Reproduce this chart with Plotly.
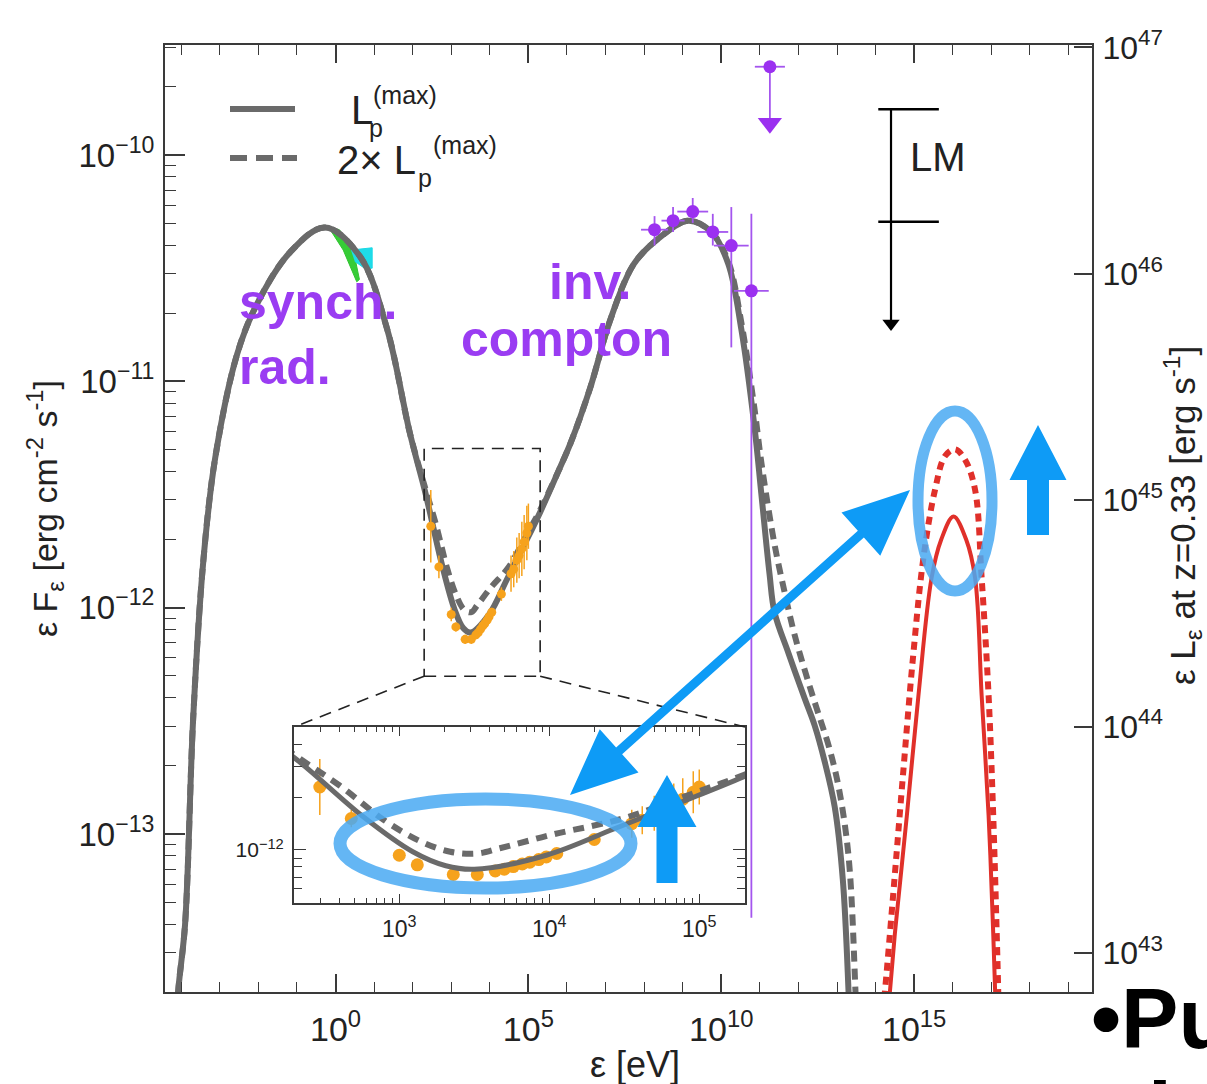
import numpy as np
import plotly.graph_objects as go

W, H = 1207, 1084
L, R, T, B = 165, 1092, 45, 992          # plot-area edges (px)

x_range = [-4.42, 19.61]                 # log10 eV
y_range = [-13.698, -9.514]              # log10 erg cm-2 s-1
y3_range = [42.827, 47.011]              # log10 erg s-1 (right axis)
inset_x_range = [2.298, 5.305]
inset_y_range = [-12.303, -11.297]
inset_box_px = [294, 745, 727, 903]      # left, right, top, bottom

# ---------------- data (log10 values) ----------------
lp_logE = [-4.20, -4.08, -3.90, -3.69, -3.43, -3.12, -2.55, -2.04, -1.18, -0.27, 0.64, 1.34, 1.93,
           2.34, 2.76, 3.09, 3.31, 3.50, 3.98, 4.43, 4.87, 5.30, 5.77, 6.10, 6.60, 7.14, 7.74,
           8.44, 9.14, 9.74, 10.18, 10.52, 10.86, 11.04, 11.25, 11.38, 11.74, 12.16, 12.42,
           12.68, 12.94, 13.15, 13.30, 13.40]
lp_logF = [-14.10, -13.70, -13.40, -12.49, -11.80, -11.34, -10.88, -10.66, -10.43, -10.32, -10.45,
           -10.77, -11.23, -11.50, -11.81, -12.01, -12.09, -12.11, -12.03, -11.88, -11.73, -11.58,
           -11.40, -11.27, -11.03, -10.72, -10.48, -10.36, -10.29, -10.34, -10.48, -10.77, -11.20,
           -11.50, -11.85, -12.02, -12.20, -12.40, -12.52, -12.68, -12.88, -13.20, -13.70, -14.20]

lp2_logE = [-4.20, -4.08, -3.90, -3.69, -3.43, -3.12, -2.55, -2.04, -1.18, -0.27, 0.64, 1.34, 1.93,
            2.34, 2.60, 2.90, 3.14, 3.34, 3.52, 3.67, 4.03, 4.49, 4.98, 5.30, 5.77, 6.10, 6.60,
            7.14, 7.74, 8.44, 9.14, 9.74, 10.18, 10.52, 10.86, 11.04, 11.38, 11.64, 11.90, 12.26,
            12.52, 12.80, 13.05, 13.30, 13.48, 13.58]
lp2_logF = [-14.10, -13.70, -13.40, -12.49, -11.80, -11.34, -10.88, -10.66, -10.43, -10.32, -10.45,
            -10.77, -11.23, -11.48, -11.63, -11.83, -11.95, -12.01, -12.02, -11.99, -11.91, -11.82,
            -11.67, -11.57, -11.40, -11.27, -11.03, -10.72, -10.48, -10.36, -10.29, -10.34, -10.47,
            -10.74, -11.12, -11.36, -11.72, -11.93, -12.12, -12.33, -12.47, -12.62, -12.80, -13.10,
            -13.70, -14.20]

nu_logE = [14.30, 14.37, 14.50, 14.81, 15.11, 15.45, 15.70, 16.02, 16.35, 16.58, 16.75, 16.93, 17.05, 17.10, 17.12]
nu_logF = [-13.85, -13.70, -13.44, -12.92, -12.39, -11.87, -11.70, -11.597, -11.70, -11.87, -12.39, -12.92, -13.44, -13.70, -13.85]
nu2_logE = [14.15, 14.24, 14.46, 14.71, 14.97, 15.24, 15.54, 15.80, 16.06, 16.33, 16.58, 16.75, 16.93, 17.05, 17.14, 17.18, 17.20]
nu2_logF = [-13.85, -13.70, -13.26, -12.74, -12.22, -11.78, -11.48, -11.33, -11.30, -11.35, -11.48, -11.87, -12.39, -12.92, -13.44, -13.70, -13.85]

gam_logE = [8.27, 8.75, 9.26, 9.78, 10.26, 10.78]
gam_logF = [-10.33, -10.29, -10.25, -10.34, -10.40, -10.60]
gam_logF_hi = [-10.27, -10.23, -10.19, -10.26, -10.23, -10.26]
gam_logF_lo = [-10.40, -10.34, -10.30, -10.40, -10.85, -13.37]
gam_logE_err = [0.35, 0.30, 0.40, 0.40, 0.45, 0.45]

ul_logE = [11.26]
ul_logF = [-9.61]
ul_logF_head = [-9.86]
ul_logE_err = [0.39]

xray_logE = [2.47, 2.68, 3.00, 3.12, 3.36, 3.52, 3.64, 3.70, 3.76, 3.82, 3.87, 3.93, 3.98, 4.05,
             4.30, 4.55, 4.62, 4.70, 4.76, 4.83, 4.89, 4.96, 5.00]
xray_logF = [-11.64, -11.82, -12.03, -12.085, -12.14, -12.14, -12.12, -12.11, -12.095, -12.08,
             -12.07, -12.055, -12.04, -12.02, -11.94, -11.85, -11.83, -11.79, -11.77, -11.74,
             -11.71, -11.67, -11.64]
xray_err = [0.16, 0.05, 0.03, 0.02, 0.02, 0.02, 0.02, 0.02, 0.02, 0.02, 0.02, 0.02, 0.02, 0.02,
            0.03, 0.08, 0.08, 0.10, 0.10, 0.12, 0.12, 0.12, 0.10]

opt_green_logE = [-0.32, 0.10, 0.45, 0.62, 0.55, 0.20, -0.10]
opt_green_logF = [-10.31, -10.33, -10.41, -10.55, -10.56, -10.42, -10.34]
uv_cyan_logE = [0.40, 0.95, 0.95, 0.75, 0.50]
uv_cyan_logF = [-10.42, -10.41, -10.50, -10.50, -10.47]

lm_logE = 14.40
lm_cap_logE = [14.07, 15.64]
lm_logF = [-9.798, -10.295, -10.745]     # top cap, second cap, arrow head

x_ticks = [0, 5, 10, 15]
y_ticks = [-13, -12, -11, -10]
y3_ticks = [43, 44, 45, 46, 47]
inset_x_ticks = [3, 4, 5]

# ---------------- helpers ----------------
def lin(a):
    return [10.0 ** v for v in a]

def ppx(px):
    return (px - L) / (R - L)

def ppy(py):
    return (B - py) / (B - T)

def dpx(lx):
    return (lx - x_range[0]) / (x_range[1] - x_range[0])

def dpy(ly):
    return (ly - y_range[0]) / (y_range[1] - y_range[0])

def sup(n):
    s = str(n).replace('-', '\u2212')
    return f"10<sup>{s}</sup>"

GRAY = '#6a6a6a'
RED = '#e0302a'
ORANGE = '#f6a21c'
PURPLE = '#9b30f0'
PTXT = '#9a3cf2'
BLUE = '#0e9bf6'
BLUE_E = '#4aaaf3'
FRAME = '#3a3a3a'
FN = 'Liberation Sans, Arial, sans-serif'
FB = 'Liberation Sans, Arial, sans-serif'

fig = go.Figure()

# optical / UV
fig.add_trace(go.Scatter(x=lin(opt_green_logE), y=lin(opt_green_logF), fill='toself', mode='lines',
                         line=dict(color='#2fc42f', width=1), fillcolor='#36cc36', hoverinfo='skip'))
fig.add_trace(go.Scatter(x=lin(uv_cyan_logE), y=lin(uv_cyan_logF), fill='toself', mode='lines',
                         line=dict(color='#19d9e6', width=1), fillcolor='#1fdbe8', hoverinfo='skip'))

# model curves
fig.add_trace(go.Scatter(x=lin(lp2_logE), y=lin(lp2_logF), mode='lines', line_shape='spline',
                         line=dict(color=GRAY, width=6, dash='11px,7px'), hoverinfo='skip'))
fig.add_trace(go.Scatter(x=lin(lp_logE), y=lin(lp_logF), mode='lines', line_shape='spline',
                         line=dict(color=GRAY, width=6), hoverinfo='skip'))
fig.add_trace(go.Scatter(x=lin(nu2_logE), y=lin(nu2_logF), mode='lines', line_shape='spline',
                         line=dict(color=RED, width=6, dash='8px,6px'), hoverinfo='skip'))
fig.add_trace(go.Scatter(x=lin(nu_logE), y=lin(nu_logF), mode='lines', line_shape='spline',
                         line=dict(color=RED, width=4), hoverinfo='skip'))

# X-ray data
def xerr(logy, e):
    y = np.array(lin(logy))
    up = np.array(lin(list(np.array(logy) + np.array(e)))) - y
    dn = y - np.array(lin(list(np.array(logy) - np.array(e))))
    return y, up, dn

xy, xup, xdn = xerr(xray_logF, xray_err)
fig.add_trace(go.Scatter(x=lin(xray_logE), y=xy, mode='markers',
                         marker=dict(color=ORANGE, size=9),
                         error_y=dict(type='data', symmetric=False, array=xup, arrayminus=xdn,
                                      color=ORANGE, thickness=1.5, width=0), hoverinfo='skip'))

# gamma-ray data
gy = np.array(lin(gam_logF))
gup = np.array(lin(gam_logF_hi)) - gy
gdn = gy - np.array(lin(gam_logF_lo))
gx = np.array(lin(gam_logE))
gxp = np.array(lin(list(np.array(gam_logE) + np.array(gam_logE_err)))) - gx
gxm = gx - np.array(lin(list(np.array(gam_logE) - np.array(gam_logE_err))))
fig.add_trace(go.Scatter(x=gx, y=gy, mode='markers', marker=dict(color=PURPLE, size=13),
                         error_y=dict(type='data', symmetric=False, array=gup, arrayminus=gdn,
                                      color='#a455ee', thickness=1.8, width=0),
                         error_x=dict(type='data', symmetric=False, array=gxp, arrayminus=gxm,
                                      color='#a455ee', thickness=1.8, width=0), hoverinfo='skip'))
# upper limit
ux = np.array(lin(ul_logE))
uy = np.array(lin(ul_logF))
fig.add_trace(go.Scatter(x=ux, y=uy, mode='markers', marker=dict(color=PURPLE, size=13),
                         error_x=dict(type='data', symmetric=False,
                                      array=np.array(lin(list(np.array(ul_logE) + np.array(ul_logE_err)))) - ux,
                                      arrayminus=ux - np.array(lin(list(np.array(ul_logE) - np.array(ul_logE_err)))),
                                      color='#a455ee', thickness=1.8, width=0),
                         error_y=dict(type='data', symmetric=False, array=[0],
                                      arrayminus=uy - np.array(lin(ul_logF_head)),
                                      color='#a455ee', thickness=1.8, width=0), hoverinfo='skip'))
fig.add_trace(go.Scatter(x=ux, y=lin(ul_logF_head), mode='markers',
                         marker=dict(color=PURPLE, size=21, symbol='triangle-down'), hoverinfo='skip'))

# LM limit
fig.add_trace(go.Scatter(x=lin([lm_logE, lm_logE]), y=lin([lm_logF[0], lm_logF[2]]), mode='lines',
                         line=dict(color='black', width=2.2), hoverinfo='skip'))
for f in lm_logF[:2]:
    fig.add_trace(go.Scatter(x=lin(lm_cap_logE), y=lin([f, f]), mode='lines',
                             line=dict(color='black', width=2.5), hoverinfo='skip'))
fig.add_trace(go.Scatter(x=lin([lm_logE]), y=lin([lm_logF[2]]), mode='markers',
                         marker=dict(color='black', size=15, symbol='triangle-down'), hoverinfo='skip'))

# invisible trace for right axis
fig.add_trace(go.Scatter(x=[1.0], y=[1e45], yaxis='y3', mode='markers', marker=dict(opacity=0),
                         hoverinfo='skip'))

# inset traces
fig.add_trace(go.Scatter(x=lin(xray_logE), y=xy, mode='markers', xaxis='x2', yaxis='y2',
                         marker=dict(color=ORANGE, size=13),
                         error_y=dict(type='data', symmetric=False, array=xup, arrayminus=xdn,
                                      color=ORANGE, thickness=1.5, width=0), hoverinfo='skip'))
fig.add_trace(go.Scatter(x=lin(lp2_logE), y=lin(lp2_logF), mode='lines', line_shape='spline',
                         xaxis='x2', yaxis='y2',
                         line=dict(color=GRAY, width=6, dash='11px,8px'), hoverinfo='skip'))
fig.add_trace(go.Scatter(x=lin(lp_logE), y=lin(lp_logF), mode='lines', line_shape='spline',
                         xaxis='x2', yaxis='y2', line=dict(color=GRAY, width=5), hoverinfo='skip'))

# ---------------- axes ----------------
minor_x = [10.0 ** k for k in range(-4, 20)]
minor_y = [m * 10.0 ** k for k in range(-14, -9) for m in range(2, 10)]
inset_minor_x = [m * 10.0 ** k for k in range(2, 6) for m in range(1, 10)]
inset_minor_y = [m * 10.0 ** k for k in range(-13, -11) for m in range(2, 10)]

fig.update_layout(
    width=W, height=H,
    margin=dict(l=L, r=W - R, t=T, b=H - B, pad=0),
    paper_bgcolor='white', plot_bgcolor='white', showlegend=False,
    xaxis=dict(type='log', range=x_range, domain=[0, 1], anchor='y',
               tickmode='array', tickvals=[10.0 ** v for v in x_ticks], ticktext=[sup(v) for v in x_ticks],
               ticks='inside', ticklen=18, tickwidth=1.5, tickcolor=FRAME,
               minor=dict(tickmode='array', tickvals=minor_x, ticks='inside', ticklen=10,
                          tickwidth=1.3, tickcolor=FRAME, showgrid=False),
               showline=True, linecolor=FRAME, linewidth=2, mirror='ticks',
               showgrid=False, zeroline=False, tickfont=dict(family=FN, size=34, color='#222'),
               ticklabelstandoff=6),
    yaxis=dict(type='log', range=y_range, domain=[0, 1], anchor='x',
               tickmode='array', tickvals=[10.0 ** v for v in y_ticks], ticktext=[sup(v) for v in y_ticks],
               ticks='inside', ticklen=20, tickwidth=1.5, tickcolor=FRAME,
               minor=dict(tickmode='array', tickvals=minor_y, ticks='inside', ticklen=11,
                          tickwidth=1.3, tickcolor=FRAME, showgrid=False),
               showline=True, linecolor=FRAME, linewidth=2, mirror=False,
               showgrid=False, zeroline=False, tickfont=dict(family=FN, size=33, color='#222'),
               ticklabelstandoff=2),
    yaxis3=dict(type='log', range=y3_range, overlaying='y', side='right', anchor='x',
                tickmode='array', tickvals=[10.0 ** v for v in y3_ticks], ticktext=[sup(v) for v in y3_ticks],
                ticks='inside', ticklen=18, tickwidth=1.5, tickcolor=FRAME,
                showline=True, linecolor=FRAME, linewidth=2, showgrid=False, zeroline=False,
                tickfont=dict(family=FN, size=32, color='#222'), ticklabelstandoff=2),
    xaxis2=dict(type='log', range=inset_x_range, anchor='y2',
                domain=[ppx(inset_box_px[0]), ppx(inset_box_px[1])],
                tickmode='array', tickvals=[10.0 ** v for v in inset_x_ticks],
                ticktext=[sup(v) for v in inset_x_ticks],
                ticks='inside', ticklen=9, tickwidth=1.3, tickcolor=FRAME,
                minor=dict(tickmode='array', tickvals=inset_minor_x, ticks='inside', ticklen=5,
                           tickwidth=1.1, tickcolor=FRAME, showgrid=False),
                showline=True, linecolor=FRAME, linewidth=2, mirror='ticks', showgrid=False,
                zeroline=False, tickfont=dict(family=FN, size=23, color='#222'), ticklabelstandoff=4),
    yaxis2=dict(type='log', range=inset_y_range, anchor='x2',
                domain=[ppy(inset_box_px[3]), ppy(inset_box_px[2])],
                tickmode='array', tickvals=[1e-12], ticktext=[sup(-12)],
                ticks='inside', ticklen=12, tickwidth=1.3, tickcolor=FRAME,
                minor=dict(tickmode='array', tickvals=inset_minor_y, ticks='inside', ticklen=8,
                           tickwidth=1.1, tickcolor=FRAME, showgrid=False),
                showline=True, linecolor=FRAME, linewidth=2, mirror='ticks', showgrid=False,
                zeroline=False, tickfont=dict(family=FN, size=21, color='#222'), ticklabelstandoff=4),
)

# ---------------- shapes ----------------
shapes = []
bx0, bx1 = dpx(inset_x_range[0]), dpx(inset_x_range[1])
by0, by1 = dpy(inset_y_range[0]), dpy(inset_y_range[1])
dash = dict(color='#222', width=1.6, dash='12px,8px')
shapes.append(dict(type='rect', xref='paper', yref='paper', x0=bx0, x1=bx1, y0=by0, y1=by1, line=dash))
ix0, ix1 = ppx(inset_box_px[0]), ppx(inset_box_px[1])
iy1 = ppy(inset_box_px[2])
shapes.append(dict(type='line', xref='paper', yref='paper', x0=bx0, y0=by0, x1=ix0, y1=iy1, line=dash))
shapes.append(dict(type='line', xref='paper', yref='paper', x0=bx1, y0=by0, x1=ix1, y1=iy1, line=dash))

# legend samples
shapes.append(dict(type='line', xref='paper', yref='paper', x0=ppx(230), x1=ppx(295), y0=ppy(109), y1=ppy(109),
                   line=dict(color=GRAY, width=6)))
shapes.append(dict(type='line', xref='paper', yref='paper', x0=ppx(230), x1=ppx(297), y0=ppy(158), y1=ppy(158),
                   line=dict(color=GRAY, width=6, dash='17px,9px')))

# hand-drawn highlight ellipses
shapes.append(dict(type='circle', xref='paper', yref='paper', x0=ppx(918), x1=ppx(992), y0=ppy(591), y1=ppy(411),
                   line=dict(color=BLUE_E, width=11), opacity=0.85))
shapes.append(dict(type='circle', xref='paper', yref='paper', x0=ppx(340), x1=ppx(631), y0=ppy(888), y1=ppy(799),
                   line=dict(color=BLUE_E, width=13), opacity=0.85))


def arrow_path(tail, tip, head_len, head_hw, shaft_hw, double=False):
    tx, ty = tail
    hx, hy = tip
    dx, dy = hx - tx, hy - ty
    ln = (dx * dx + dy * dy) ** 0.5
    ux_, uy_ = dx / ln, dy / ln
    nx, ny = -uy_, ux_
    bx, by = hx - ux_ * head_len, hy - uy_ * head_len
    if double:
        sx, sy = tx + ux_ * head_len, ty + uy_ * head_len
    else:
        sx, sy = tx, ty
    pts = [(sx + nx * shaft_hw, sy + ny * shaft_hw), (bx + nx * shaft_hw, by + ny * shaft_hw),
           (bx + nx * head_hw, by + ny * head_hw), (hx, hy),
           (bx - nx * head_hw, by - ny * head_hw), (bx - nx * shaft_hw, by - ny * shaft_hw),
           (sx - nx * shaft_hw, sy - ny * shaft_hw)]
    if double:
        pts += [(sx - nx * head_hw, sy - ny * head_hw), (tx, ty), (sx + nx * head_hw, sy + ny * head_hw)]
    return "M " + " L ".join(f"{ppx(x):.5f},{ppy(y):.5f}" for x, y in pts) + " Z"


for p in [arrow_path((570, 795), (910, 490), 66, 29, 4.5, double=True),
          arrow_path((1038, 535), (1038, 425), 55, 28.5, 11),
          arrow_path((667, 883), (667, 775), 52, 29.5, 10.5)]:
    shapes.append(dict(type='path', xref='paper', yref='paper', path=p, fillcolor=BLUE,
                       line=dict(width=0)))

fig.update_layout(shapes=shapes)

# ---------------- text ----------------
ann = []
def txt(text, px, py, size, color='#222', family=FN, xanchor='center', yanchor='middle', angle=0, align='center'):
    ann.append(dict(text=text, x=ppx(px), y=ppy(py), xref='paper', yref='paper', showarrow=False,
                    xanchor=xanchor, yanchor=yanchor, textangle=angle, align=align,
                    font=dict(family=family, size=size, color=color)))

# axis titles
txt("\u03b5 F<sub>\u03b5</sub> [erg cm<sup>-2</sup> s<sup>-1</sup>]", 45, 509, 34, family=FB, angle=-90)
txt("\u03b5 [eV]", 635, 1064, 36, family=FN)
txt("\u03b5 L<sub>\u03b5</sub> at z=0.33 [erg s<sup>-1</sup>]", 1182, 516, 35, family=FB, angle=-90)

# legend labels
txt("L", 349, 110, 40, xanchor='left')
txt("(max)", 371, 95, 25, xanchor='left')
txt("p", 367, 128, 25, xanchor='left')
txt("2\u00d7 L", 335, 160, 40, xanchor='left')
txt("(max)", 431, 145, 25, xanchor='left')
txt("p", 416, 178, 25, xanchor='left')

# LM
txt("LM", 938, 157, 40, family=FB)

# component labels
txt("<b>synch.</b><br><b>rad.</b>", 237, 334, 50, color=PTXT, family=FB, xanchor='left', align='left')
txt("<b>inv.</b>", 590, 282, 50, color=PTXT, family=FB)
txt("<b>compton</b>", 566, 339, 50, color=PTXT, family=FB)

# slide text cut off at the right edge
txt("<b>\u2022Pu</b>", 1089, 1018, 86, color='black', family=FB, xanchor='left')
txt("<b>l</b>", 1146, 1112, 86, color='black', family=FB, xanchor='left')

fig.update_layout(annotations=ann)

fig.write_html("out.html")
